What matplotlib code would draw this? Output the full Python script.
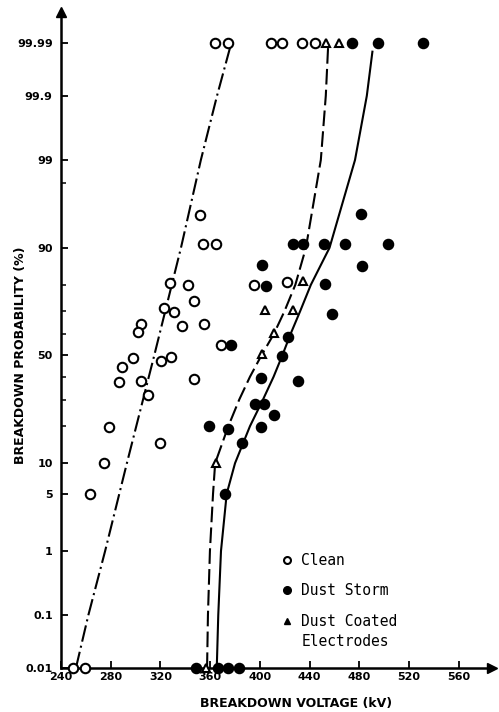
from statistics import NormalDist
import numpy as np
import matplotlib
matplotlib.use("Agg")
import matplotlib.pyplot as plt
from matplotlib.lines import Line2D

# breakdown voltage (kV) vs cumulative breakdown probability (%)
clean_kv = [364, 374, 409, 418, 434, 444, 250, 259,
            352, 354.5, 365, 328, 342, 395, 422, 347, 323, 331,
            304, 302, 337, 355, 369, 298, 289, 287, 304, 320.5, 328.5, 347,
            310, 279, 319.5, 274.5, 263]
clean_p = [99.99, 99.99, 99.99, 99.99, 99.99, 99.99, 0.01, 0.01,
           95.3, 90.7, 90.7, 80.7, 80, 80, 80.9, 74, 71.2, 69.6,
           64.6, 61.2, 63.9, 64.6, 54.9, 49, 44.6, 37.5, 38.2, 47.3, 49.5, 38.9,
           31.7, 19.8, 15, 10, 5]

storm_kv = [474, 495, 531, 348.5, 366.5, 374, 383.5,
            481.5, 426.5, 434.5, 451.5, 468.5, 503, 402, 482, 405, 452.5,
            458, 422.5, 377, 417.5, 401, 431, 396, 403, 411.5,
            359, 374, 400.5, 386, 372]
storm_p = [99.99, 99.99, 99.99, 0.01, 0.01, 0.01, 0.01,
           95.4, 90.7, 90.7, 90.7, 90.7, 90.7, 85.8, 85.7, 79.5, 80.4,
           68.9, 58.9, 54.9, 49.8, 39.4, 38.2, 28.3, 28.3, 24,
           20.2, 19.1, 19.6, 15, 5]

coated_kv = [453, 463.5, 357, 435, 404, 426.5, 411.5, 401.5, 364.5]
coated_p = [99.99, 99.99, 0.01, 81.1, 70.6, 70.6, 60.4, 50.5, 10]

# fitted distribution curves
clean_fit_kv = [252, 262, 275.5, 293, 315, 336.5, 352.5, 365.5, 377]
clean_fit_p = [0.01, 0.1, 1, 10, 50, 90, 99, 99.9, 99.99]

storm_fit_kv = [365.3, 366.5, 368.7, 373.3, 380, 392, 402.5, 411, 418,
                424.6, 432.3, 441, 456, 476.5, 486, 490.5]
storm_fit_p = [0.01, 0.1, 1, 5, 10, 20, 30, 40, 50,
               60, 70, 80, 90, 99, 99.9, 99.985]

coated_fit_kv = [357.5, 358.2, 359.8, 362.3, 364, 374.6, 383.4, 392, 401.2,
                 411.1, 419.7, 428.5, 437, 449, 453, 455]
coated_fit_p = [0.01, 0.1, 1, 5, 10, 20, 30, 40, 50,
                60, 70, 80, 90, 99, 99.9, 99.99]

yticks = [0.01, 0.1, 1, 5, 10, 50, 90, 99, 99.9, 99.99]
ytick_labels = ["0.01", "0.1", "1", "5", "10", "50", "90", "99", "99.9", "99.99"]
yminor = [20, 30, 40, 60, 70, 80, 98]
xticks = [240, 280, 320, 360, 400, 440, 480, 520, 560]

_nd = NormalDist()
_ppf = np.vectorize(_nd.inv_cdf, otypes=[float])
_cdf = np.vectorize(_nd.cdf, otypes=[float])


def prob_fwd(p):
    p = np.clip(np.asarray(p, dtype=float) / 100.0, 1e-9, 1 - 1e-9)
    return _ppf(p)


def prob_inv(z):
    return _cdf(np.asarray(z, dtype=float)) * 100.0


fig = plt.figure(figsize=(4.99, 7.12), dpi=100)
ax = fig.add_axes([61 / 499, 44 / 712, 431 / 499, 656 / 712])
ax.set_yscale("function", functions=(prob_fwd, prob_inv))

lw = 1.5
ax.plot(clean_fit_kv, clean_fit_p, color="k", lw=lw,
        linestyle=(0, (8, 2, 1, 2)))
ax.plot(coated_fit_kv, coated_fit_p, color="k", lw=lw,
        linestyle=(0, (7.5, 2.5)))
ax.plot(storm_fit_kv, storm_fit_p, color="k", lw=lw, linestyle="-")

ax.plot(clean_kv, clean_p, linestyle="none", marker="o", ms=6.8,
        mfc="white", mec="k", mew=1.5, clip_on=False, zorder=3)
ax.plot(storm_kv, storm_p, linestyle="none", marker="o", ms=7.3,
        mfc="k", mec="k", clip_on=False, zorder=3)
ax.plot(coated_kv, coated_p, linestyle="none", marker="^", ms=6,
        mfc="white", mec="k", mew=1.5, clip_on=False, zorder=4)

ax.set_xlim(240, 586.7)
ax.set_ylim(0.01, 99.99782)

ax.set_xticks(xticks)
ax.set_xticklabels([str(v) for v in xticks])
ax.set_yticks(yticks)
ax.set_yticklabels(ytick_labels)
ax.set_yticks(yminor, minor=True)
ax.yaxis.set_minor_formatter(plt.NullFormatter())

for side in ["top", "right"]:
    ax.spines[side].set_visible(False)
for side in ["left", "bottom"]:
    ax.spines[side].set_linewidth(1.8)

ax.tick_params(axis="both", which="major", direction="in", length=5,
               width=1.3, labelsize=8)
ax.tick_params(axis="y", which="minor", direction="in", length=3.5, width=1.1)
ax.tick_params(axis="x", pad=3)
ax.tick_params(axis="y", pad=6)
for lab in ax.get_xticklabels() + ax.get_yticklabels():
    lab.set_fontweight("bold")

# arrow heads on the axes
ax.plot(1, 0, marker=">", ms=7, color="k", transform=ax.transAxes, clip_on=False)
ax.plot(0, 1, marker="^", ms=7, color="k", transform=ax.transAxes, clip_on=False)

fig.text(296 / 499, 1 - 703 / 712, "BREAKDOWN VOLTAGE (kV)", ha="center",
         va="center", fontsize=9, fontweight="bold")
fig.text(21 / 499, 1 - 355 / 712, "BREAKDOWN PROBABILITY (%)", ha="center",
         va="center", rotation=90, fontsize=9, fontweight="bold")

handles = [
    Line2D([], [], linestyle="none", marker="o", ms=5, mfc="white", mec="k", mew=1.5),
    Line2D([], [], linestyle="none", marker="o", ms=5.5, mfc="k", mec="k"),
    Line2D([], [], linestyle="none", marker="^", ms=5, mfc="k", mec="k"),
]
mono = {"family": "DejaVu Sans Mono", "size": 10.5}
ax.legend(handles, ["Clean", "Dust Storm", "Dust Coated"], loc="upper left",
          bbox_to_anchor=(281 / 499, 1 - 553 / 712), bbox_transform=fig.transFigure,
          frameon=False, prop=mono, handlelength=0.8, handletextpad=0.6,
          labelspacing=1.05, borderpad=0, borderaxespad=0)
fig.text(302 / 499, 1 - 641 / 712, "Electrodes", ha="left", va="center",
         family="DejaVu Sans Mono", fontsize=10.5)

fig.savefig("out.png", dpi=100)
